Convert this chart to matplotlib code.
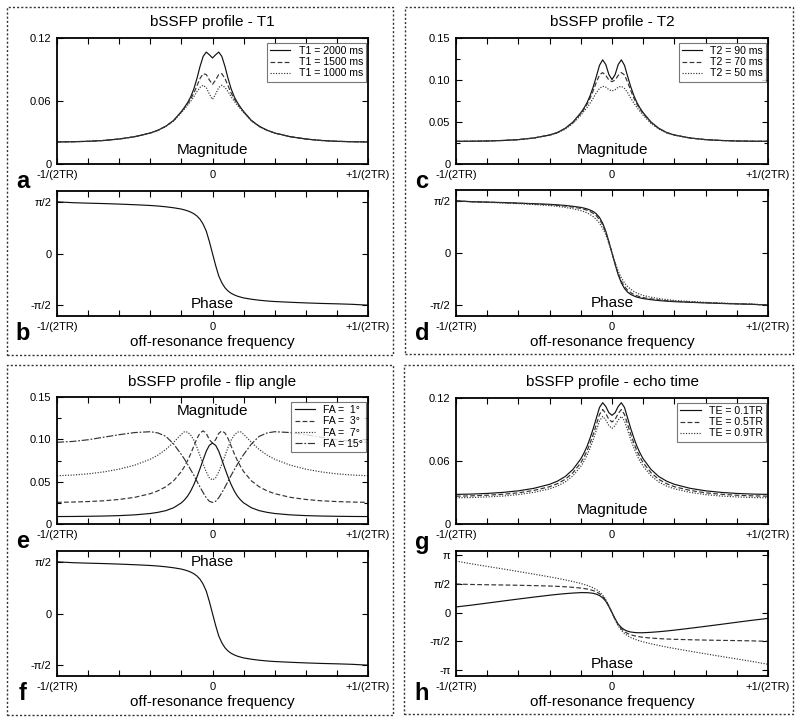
import matplotlib.pyplot as plt
from matplotlib.patches import Rectangle

plt.rcParams["font.family"] = ["Liberation Sans", "DejaVu Sans"]

# off-resonance frequency, in units of 1/TR
freq = [-0.5, -0.45, -0.4, -0.35, -0.3, -0.25, -0.2, -0.175, -0.15, -0.125, -0.1,
        -0.09, -0.08, -0.07, -0.06, -0.05, -0.04, -0.03, -0.02, -0.01, 0.0,
        0.01, 0.02, 0.03, 0.04, 0.05, 0.06, 0.07, 0.08, 0.09, 0.1,
        0.125, 0.15, 0.175, 0.2, 0.25, 0.3, 0.35, 0.4, 0.45, 0.5]

# (a) magnitude, T1
mag_t1_2000 = [0.0210, 0.0212, 0.0216, 0.0224, 0.0238, 0.0260, 0.0295, 0.0322, 0.0360, 0.0415, 0.0500,
               0.0540, 0.0585, 0.0640, 0.0715, 0.0815, 0.0930, 0.1025, 0.1066, 0.1040, 0.1010,
               0.1040, 0.1066, 0.1025, 0.0930, 0.0815, 0.0715, 0.0640, 0.0585, 0.0540, 0.0500,
               0.0415, 0.0360, 0.0322, 0.0295, 0.0260, 0.0238, 0.0224, 0.0216, 0.0212, 0.0210]
mag_t1_1500 = [0.0210, 0.0212, 0.0216, 0.0224, 0.0238, 0.0260, 0.0295, 0.0322, 0.0360, 0.0414, 0.0497,
               0.0535, 0.0575, 0.0620, 0.0675, 0.0745, 0.0815, 0.0860, 0.0852, 0.0800, 0.0758,
               0.0800, 0.0852, 0.0860, 0.0815, 0.0745, 0.0675, 0.0620, 0.0575, 0.0535, 0.0497,
               0.0414, 0.0360, 0.0322, 0.0295, 0.0260, 0.0238, 0.0224, 0.0216, 0.0212, 0.0210]
mag_t1_1000 = [0.0210, 0.0212, 0.0216, 0.0224, 0.0238, 0.0260, 0.0294, 0.0320, 0.0357, 0.0410, 0.0490,
               0.0525, 0.0560, 0.0598, 0.0640, 0.0690, 0.0730, 0.0750, 0.0728, 0.0665, 0.0615,
               0.0665, 0.0728, 0.0750, 0.0730, 0.0690, 0.0640, 0.0598, 0.0560, 0.0525, 0.0490,
               0.0410, 0.0357, 0.0320, 0.0294, 0.0260, 0.0238, 0.0224, 0.0216, 0.0212, 0.0210]

# (b) and (f) phase, single curve
phase_base = [1.571, 1.545, 1.530, 1.518, 1.502, 1.483, 1.460, 1.443, 1.420, 1.390, 1.350,
              1.325, 1.297, 1.258, 1.210, 1.140, 1.040, 0.890, 0.680, 0.360, 0.0,
              -0.360, -0.680, -0.890, -1.040, -1.140, -1.210, -1.258, -1.297, -1.325, -1.350,
              -1.390, -1.420, -1.443, -1.460, -1.483, -1.502, -1.518, -1.530, -1.545, -1.571]

# (c) magnitude, T2
mag_t2_90 = [0.0270, 0.0271, 0.0274, 0.0280, 0.0290, 0.0310, 0.0345, 0.0375, 0.0425, 0.0500, 0.0610,
             0.0665, 0.0730, 0.0815, 0.0920, 0.1045, 0.1175, 0.1240, 0.1185, 0.1065, 0.1005,
             0.1065, 0.1185, 0.1240, 0.1175, 0.1045, 0.0920, 0.0815, 0.0730, 0.0665, 0.0610,
             0.0500, 0.0425, 0.0375, 0.0345, 0.0310, 0.0290, 0.0280, 0.0274, 0.0271, 0.0270]
mag_t2_70 = [0.0270, 0.0271, 0.0274, 0.0280, 0.0290, 0.0310, 0.0345, 0.0374, 0.0423, 0.0495, 0.0600,
             0.0650, 0.0710, 0.0785, 0.0875, 0.0975, 0.1060, 0.1088, 0.1055, 0.1000, 0.0980,
             0.1000, 0.1055, 0.1088, 0.1060, 0.0975, 0.0875, 0.0785, 0.0710, 0.0650, 0.0600,
             0.0495, 0.0423, 0.0374, 0.0345, 0.0310, 0.0290, 0.0280, 0.0274, 0.0271, 0.0270]
mag_t2_50 = [0.0270, 0.0271, 0.0274, 0.0280, 0.0290, 0.0309, 0.0342, 0.0370, 0.0416, 0.0483, 0.0580,
             0.0625, 0.0672, 0.0725, 0.0785, 0.0850, 0.0900, 0.0925, 0.0915, 0.0885, 0.0870,
             0.0885, 0.0915, 0.0925, 0.0900, 0.0850, 0.0785, 0.0725, 0.0672, 0.0625, 0.0580,
             0.0483, 0.0416, 0.0370, 0.0342, 0.0309, 0.0290, 0.0280, 0.0274, 0.0271, 0.0270]

# (d) phase, T2
phase_t2_90 = [1.571, 1.548, 1.535, 1.522, 1.505, 1.487, 1.468, 1.452, 1.435, 1.408, 1.375,
               1.355, 1.330, 1.295, 1.250, 1.180, 1.070, 0.900, 0.660, 0.340, 0.0,
               -0.340, -0.660, -0.900, -1.070, -1.180, -1.250, -1.295, -1.330, -1.355, -1.375,
               -1.408, -1.435, -1.452, -1.468, -1.487, -1.505, -1.522, -1.535, -1.548, -1.571]
phase_t2_70 = [1.571, 1.546, 1.532, 1.518, 1.500, 1.480, 1.455, 1.437, 1.415, 1.383, 1.345,
               1.320, 1.290, 1.250, 1.195, 1.120, 1.010, 0.850, 0.630, 0.330, 0.0,
               -0.330, -0.630, -0.850, -1.010, -1.120, -1.195, -1.250, -1.290, -1.320, -1.345,
               -1.383, -1.415, -1.437, -1.455, -1.480, -1.500, -1.518, -1.532, -1.546, -1.571]
phase_t2_50 = [1.571, 1.543, 1.527, 1.510, 1.488, 1.462, 1.430, 1.405, 1.375, 1.333, 1.280,
               1.248, 1.210, 1.160, 1.095, 1.010, 0.900, 0.750, 0.550, 0.290, 0.0,
               -0.290, -0.550, -0.750, -0.900, -1.010, -1.095, -1.160, -1.210, -1.248, -1.280,
               -1.333, -1.375, -1.405, -1.430, -1.462, -1.488, -1.510, -1.527, -1.543, -1.571]

# (e) magnitude, flip angle
mag_fa_1 = [0.0088, 0.0089, 0.0091, 0.0094, 0.0099, 0.0108, 0.0124, 0.0138, 0.0158, 0.0192, 0.0250,
            0.0285, 0.0330, 0.0390, 0.0465, 0.0555, 0.0655, 0.0760, 0.0860, 0.0930, 0.0955,
            0.0930, 0.0860, 0.0760, 0.0655, 0.0555, 0.0465, 0.0390, 0.0330, 0.0285, 0.0250,
            0.0192, 0.0158, 0.0138, 0.0124, 0.0108, 0.0099, 0.0094, 0.0091, 0.0089, 0.0088]
mag_fa_3 = [0.0256, 0.0259, 0.0265, 0.0274, 0.0290, 0.0315, 0.0358, 0.0392, 0.0440, 0.0510, 0.0620,
            0.0680, 0.0750, 0.0830, 0.0920, 0.1010, 0.1075, 0.1100, 0.1070, 0.0995, 0.0955,
            0.0995, 0.1070, 0.1100, 0.1075, 0.1010, 0.0920, 0.0830, 0.0750, 0.0680, 0.0620,
            0.0510, 0.0440, 0.0392, 0.0358, 0.0315, 0.0290, 0.0274, 0.0265, 0.0259, 0.0256]
mag_fa_7 = [0.0570, 0.0578, 0.0592, 0.0615, 0.0648, 0.0695, 0.0765, 0.0815, 0.0880, 0.0965, 0.1060,
            0.1090, 0.1085, 0.1050, 0.0990, 0.0905, 0.0805, 0.0705, 0.0615, 0.0545, 0.0520,
            0.0545, 0.0615, 0.0705, 0.0805, 0.0905, 0.0990, 0.1050, 0.1085, 0.1090, 0.1060,
            0.0965, 0.0880, 0.0815, 0.0765, 0.0695, 0.0648, 0.0615, 0.0592, 0.0578, 0.0570]
mag_fa_15 = [0.0965, 0.0975, 0.0995, 0.1025, 0.1055, 0.1080, 0.1090, 0.1075, 0.1035, 0.0945, 0.0820,
             0.0765, 0.0705, 0.0640, 0.0575, 0.0505, 0.0435, 0.0370, 0.0310, 0.0268, 0.0255,
             0.0268, 0.0310, 0.0370, 0.0435, 0.0505, 0.0575, 0.0640, 0.0705, 0.0765, 0.0820,
             0.0945, 0.1035, 0.1075, 0.1090, 0.1080, 0.1055, 0.1025, 0.0995, 0.0975, 0.0965]

# (g) magnitude, echo time
mag_te_01 = [0.0282, 0.0285, 0.0291, 0.0301, 0.0316, 0.0340, 0.0378, 0.0408, 0.0452, 0.0520, 0.0620,
             0.0675, 0.0740, 0.0820, 0.0910, 0.1010, 0.1110, 0.1155, 0.1120, 0.1060, 0.1035,
             0.1060, 0.1120, 0.1155, 0.1110, 0.1010, 0.0910, 0.0820, 0.0740, 0.0675, 0.0620,
             0.0520, 0.0452, 0.0408, 0.0378, 0.0340, 0.0316, 0.0301, 0.0291, 0.0285, 0.0282]
mag_te_05 = [0.0265, 0.0268, 0.0274, 0.0283, 0.0297, 0.0320, 0.0355, 0.0384, 0.0425, 0.0489, 0.0583,
             0.0635, 0.0696, 0.0771, 0.0855, 0.0949, 0.1043, 0.1090, 0.1053, 0.0996, 0.0972,
             0.0996, 0.1053, 0.1090, 0.1043, 0.0949, 0.0855, 0.0771, 0.0696, 0.0635, 0.0583,
             0.0489, 0.0425, 0.0384, 0.0355, 0.0320, 0.0297, 0.0283, 0.0274, 0.0268, 0.0265]
mag_te_09 = [0.0250, 0.0252, 0.0258, 0.0266, 0.0280, 0.0301, 0.0335, 0.0361, 0.0400, 0.0460, 0.0549,
             0.0597, 0.0655, 0.0726, 0.0805, 0.0894, 0.0982, 0.1025, 0.0991, 0.0938, 0.0910,
             0.0938, 0.0991, 0.1025, 0.0982, 0.0894, 0.0805, 0.0726, 0.0655, 0.0597, 0.0549,
             0.0460, 0.0400, 0.0361, 0.0335, 0.0301, 0.0280, 0.0266, 0.0258, 0.0252, 0.0250]

# (h) phase, echo time
phase_te_01 = [0.314, 0.414, 0.525, 0.638, 0.748, 0.855, 0.957, 1.003, 1.043, 1.076, 1.099,
               1.099, 1.096, 1.082, 1.059, 1.014, 0.939, 0.815, 0.630, 0.335, 0.0,
               -0.335, -0.630, -0.815, -0.939, -1.014, -1.059, -1.082, -1.096, -1.099, -1.099,
               -1.076, -1.043, -1.003, -0.957, -0.855, -0.748, -0.638, -0.525, -0.414, -0.314]
phase_te_05 = phase_base
phase_te_09 = [2.828, 2.676, 2.535, 2.398, 2.256, 2.111, 1.963, 1.883, 1.797, 1.704, 1.601,
               1.551, 1.498, 1.434, 1.361, 1.266, 1.141, 0.965, 0.730, 0.385, 0.0,
               -0.385, -0.730, -0.965, -1.141, -1.266, -1.361, -1.434, -1.498, -1.551, -1.601,
               -1.704, -1.797, -1.883, -1.963, -2.111, -2.256, -2.398, -2.535, -2.676, -2.828]

x_ticks = [-0.5, -0.4, -0.3, -0.2, -0.1, 0.0, 0.1, 0.2, 0.3, 0.4, 0.5]
x_ticklabels = ["-1/(2TR)", "", "", "", "", "0", "", "", "", "", "+1/(2TR)"]

W, H = 800, 722
STYLES = ["-", (0, (4, 2)), (0, (1, 1.3)), (0, (6, 1.5, 1.5, 1.5))]
COLORS = ["#111111", "#333333", "#333333", "#333333"]


def px_rect(x0, y0, x1, y1):
    return [x0 / W, 1 - y1 / H, (x1 - x0) / W, (y1 - y0) / H]


def fig_text(fig, x, y, s, **kw):
    fig.text(x / W, 1 - y / H, s, ha="center", va="center", **kw)


def style_axes(ax, yticks, ylabels, ylim, yminor=None):
    ax.set_xlim(-0.5, 0.5)
    ax.set_ylim(*ylim)
    ax.set_xticks(x_ticks)
    ax.set_xticklabels(x_ticklabels)
    ax.set_yticks(yticks)
    ax.set_yticklabels(ylabels)
    if yminor is not None:
        ax.set_yticks(yminor, minor=True)
    ax.tick_params(which="both", direction="in", top=True, right=True,
                   length=4, width=0.8, labelsize=8, pad=4)
    ax.tick_params(which="minor", length=3)
    for sp in ax.spines.values():
        sp.set_linewidth(1.3)


fig = plt.figure(figsize=(W / 100, H / 100), dpi=100)

# dotted frames around the four panels
for x0, y0, x1, y1 in [(7, 7, 393, 355), (405, 7, 793, 354), (7, 365, 393, 715), (404, 365, 793, 714)]:
    fig.patches.append(Rectangle((x0 / W, 1 - y1 / H), (x1 - x0) / W, (y1 - y0) / H,
                                 transform=fig.transFigure, fill=False,
                                 edgecolor="#333333", linewidth=1.0, linestyle=(0, (1.5, 1.5))))

mag_ylabels_12 = ["0", "0.06", "0.12"]
mag_ylabels_15 = ["0", "0.05", "0.10", "0.15"]
phase_ticks = [-1.5708, 0, 1.5708]
phase_labels = ["-\u03c0/2", "0", "\u03c0/2"]

panels = [
    dict(mag=(57, 38, 368, 164), ph=(57, 191, 368, 316), cx=212.5,
         title="bSSFP profile - T1", top=True,
         mags=[mag_t1_2000, mag_t1_1500, mag_t1_1000],
         labels=["T1 = 2000 ms", "T1 = 1500 ms", "T1 = 1000 ms"],
         phases=[phase_base], scale=12, letters=("a", "b")),
    dict(mag=(456, 38, 768, 164), ph=(456, 190, 768, 316), cx=612,
         title="bSSFP profile - T2", top=True,
         mags=[mag_t2_90, mag_t2_70, mag_t2_50],
         labels=["T2 = 90 ms", "T2 = 70 ms", "T2 = 50 ms"],
         phases=[phase_t2_90, phase_t2_70, phase_t2_50], scale=15, letters=("c", "d")),
    dict(mag=(57, 397, 368, 524), ph=(57, 551, 368, 676), cx=212.5,
         title="bSSFP profile - flip angle", top=False,
         mags=[mag_fa_1, mag_fa_3, mag_fa_7, mag_fa_15],
         labels=["FA =  1\u00b0", "FA =  3\u00b0", "FA =  7\u00b0", "FA = 15\u00b0"],
         phases=[phase_base], scale=15, letters=("e", "f")),
    dict(mag=(456, 398, 768, 524), ph=(456, 551, 768, 676), cx=612,
         title="bSSFP profile - echo time", top=True,
         mags=[mag_te_01, mag_te_05, mag_te_09],
         labels=["TE = 0.1TR", "TE = 0.5TR", "TE = 0.9TR"],
         phases=[phase_te_01, phase_te_05, phase_te_09], scale=12, letters=("g", "h")),
]

for p in panels:
    ax_m = fig.add_axes(px_rect(*p["mag"]))
    for vals, lab, ls, c in zip(p["mags"], p["labels"], STYLES, COLORS):
        ax_m.plot(freq, vals, color=c, linewidth=0.85, linestyle=ls, label=lab)
    if p["scale"] == 12:
        style_axes(ax_m, [0, 0.06, 0.12], mag_ylabels_12, (0, 0.12))
    else:
        style_axes(ax_m, [0, 0.05, 0.10, 0.15], mag_ylabels_15, (0, 0.15),
                   yminor=[0.025, 0.075, 0.125])
    leg = ax_m.legend(loc="upper right", bbox_to_anchor=(0.994, 0.962), borderaxespad=0,
                      fontsize=7.6, frameon=True, fancybox=False,
                      handlelength=1.9, handletextpad=0.8, borderpad=0.3,
                      labelspacing=0.12)
    leg.get_frame().set_edgecolor("#555555")
    leg.get_frame().set_linewidth(0.8)
    mag_y = 0.11 if p["top"] else 0.89
    ax_m.text(0.5, mag_y, "Magnitude", transform=ax_m.transAxes,
              ha="center", va="center", fontsize=11)

    ax_p = fig.add_axes(px_rect(*p["ph"]))
    for vals, ls, c in zip(p["phases"], STYLES, COLORS):
        ax_p.plot(freq, vals, color=c, linewidth=0.85, linestyle=ls)
    if p["letters"][1] == "h":
        style_axes(ax_p, [-3.1416, -1.5708, 0, 1.5708, 3.1416],
                   ["-\u03c0", "-\u03c0/2", "0", "\u03c0/2", "\u03c0"], (-3.47, 3.38))
    else:
        style_axes(ax_p, phase_ticks, phase_labels, (-1.9, 1.9))
    ph_y = 0.10 if p["top"] else 0.91
    ax_p.text(0.5, ph_y, "Phase", transform=ax_p.transAxes,
              ha="center", va="center", fontsize=11)

    top0 = 22 if p["mag"][1] < 100 else 382
    fig_text(fig, p["cx"], top0, p["title"], fontsize=11)
    fig_text(fig, p["cx"], top0 + 320, "off-resonance frequency", fontsize=11)
    lx = 23 if p["cx"] < 400 else 422
    fig_text(fig, lx, p["mag"][3] + 18, p["letters"][0], fontsize=17, fontweight="bold")
    fig_text(fig, lx, p["ph"][3] + 18, p["letters"][1], fontsize=17, fontweight="bold")

fig.savefig("out.png", dpi=100)
